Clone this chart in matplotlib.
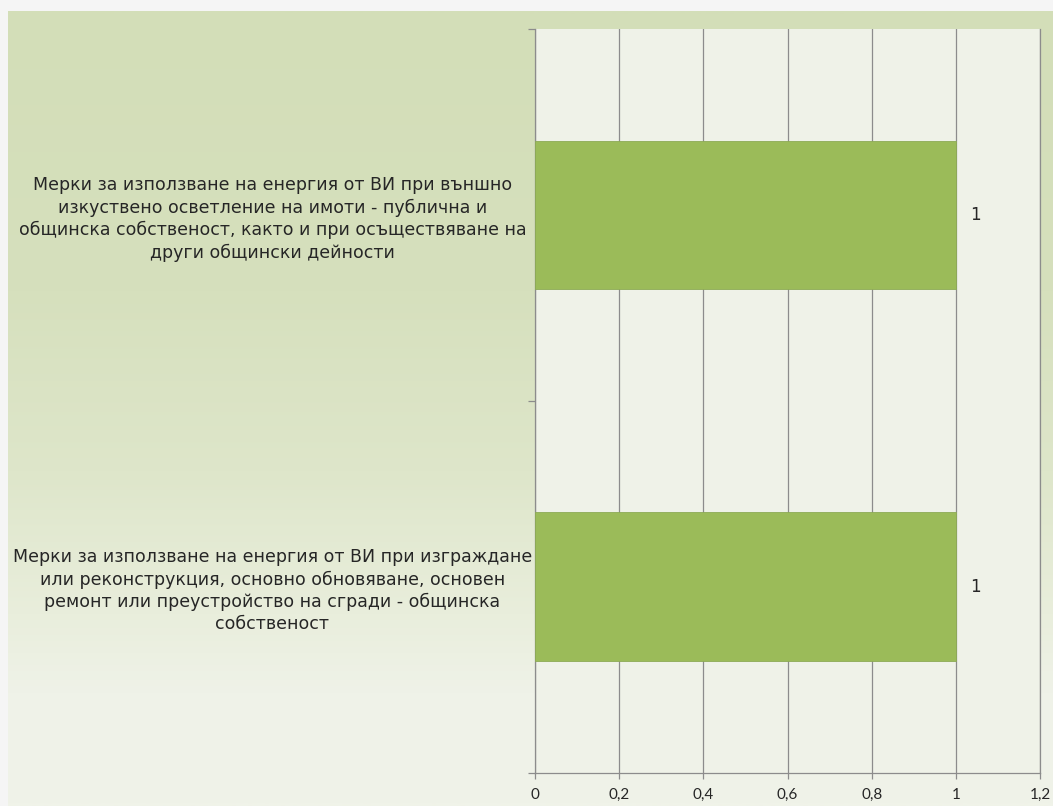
import numpy as np
import matplotlib
matplotlib.use("Agg")
import matplotlib.pyplot as plt
from matplotlib.colors import LinearSegmentedColormap

# Measures (top to bottom) and the count of each
categories = [
    "Мерки за използване на енергия от ВИ при външно\n"
    "изкуствено осветление на имоти - публична и\n"
    "общинска собственост, както и при осъществяване на\n"
    "други общински дейности",
    "Мерки за използване на енергия от ВИ при изграждане\n"
    "или реконструкция, основно обновяване, основен\n"
    "ремонт или преустройство на сгради - общинска\n"
    "собственост",
]
values = [1, 1]
x_ticks = [0, 0.2, 0.4, 0.6, 0.8, 1.0, 1.2]
x_tick_labels = ["0", "0,2", "0,4", "0,6", "0,8", "1", "1,2"]

W, H, DPI = 1053, 806, 100
fig = plt.figure(figsize=(W / DPI, H / DPI), dpi=DPI)
fig.patch.set_facecolor("#F5F5F5")

# Slide background: soft green vertical gradient
bg = fig.add_axes([8 / W, 0, 1 - 8 / W, (H - 11) / H], zorder=0)
bg.set_axis_off()
grad_cmap = LinearSegmentedColormap.from_list(
    "slide",
    [(0.0, "#D3DEB8"), (0.35, "#D6E0BD"), (0.58, "#DEE6CA"),
     (0.76, "#E9EEDC"), (0.86, "#EFF2E8"), (1.0, "#F0F3E9")],
)
grad = np.linspace(0, 1, 400).reshape(-1, 1)
bg.imshow(grad, aspect="auto", cmap=grad_cmap, extent=[0, 1, 1, 0])
bg.set_xlim(0, 1)
bg.set_ylim(1, 0)

# Plot area
ax_left, ax_right = 535 / W, 1040 / W
ax_top, ax_bot = 1 - 29 / H, 1 - 772.5 / H
ax = fig.add_axes([ax_left, ax_bot, ax_right - ax_left, ax_top - ax_bot], zorder=2)
ax.set_facecolor("#EFF2E8")

ypos = np.arange(len(categories))
bars = ax.barh(ypos, values, height=0.4, color="#9BBB59",
               edgecolor="#8DAA55", linewidth=0.6, zorder=3)

ax.set_xlim(0, 1.2)
ax.set_ylim(len(categories) - 0.5, -0.5)

grid_col = "#8C8C8C"
ax.set_xticks(x_ticks)
ax.set_xticklabels(x_tick_labels, fontsize=11, family="Lato", color="#262626")
ax.xaxis.grid(True, color=grid_col, linewidth=0.9, zorder=1)
ax.set_axisbelow(True)
ax.tick_params(axis="x", direction="out", length=4, width=0.9, color=grid_col, pad=7)

# Category labels centred left of the plot; ticks sit on category boundaries
ax.set_yticks(ypos)
ax.set_yticklabels(categories, fontsize=12.5, family="DejaVu Sans",
                   color="#262626", ha="center", linespacing=1.3)
ax.tick_params(axis="y", which="major", length=0, pad=189)
ax.set_yticks(np.arange(-0.5, len(categories)), minor=True)
ax.tick_params(axis="y", which="minor", direction="out", length=5,
               width=0.9, color=grid_col)

ax.spines["top"].set_visible(False)
for side in ("left", "bottom", "right"):
    ax.spines[side].set_color(grid_col)
    ax.spines[side].set_linewidth(0.9)

# Value labels
for y, v in zip(ypos, values):
    ax.annotate(f"{v}", xy=(v, y), xytext=(10, 0), textcoords="offset points",
                va="center", ha="left", fontsize=12, family="DejaVu Sans",
                color="#262626")

fig.savefig("out.png", dpi=DPI, facecolor=fig.get_facecolor())
